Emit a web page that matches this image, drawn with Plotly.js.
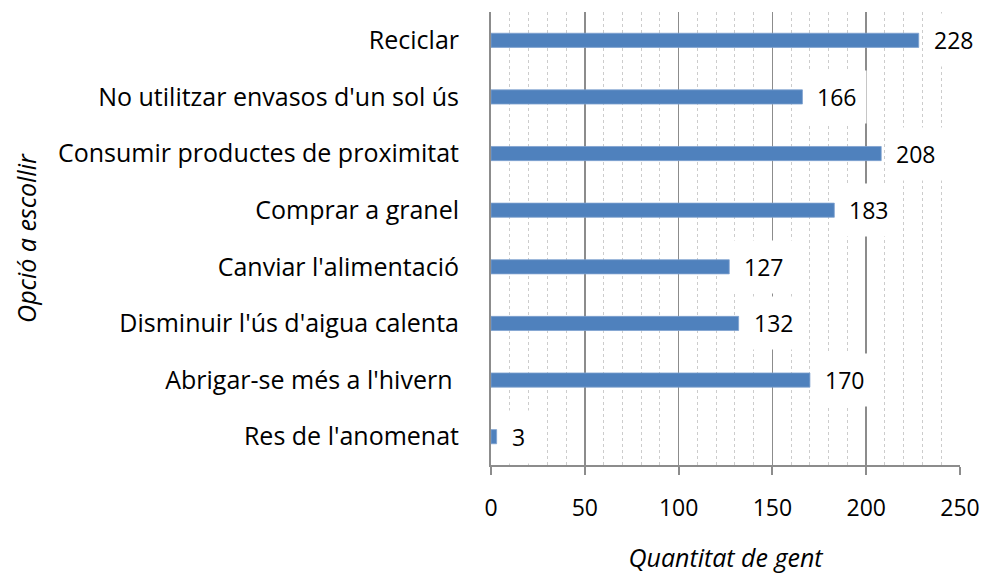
<!DOCTYPE html>
<html>
<head>
<meta charset="utf-8">
<script src="https://cdn.plot.ly/plotly-3.0.1.min.js"></script>
<style>html,body{margin:0;padding:0;background:#fff;}#chart{width:983px;height:574px;}</style>
</head>
<body>
<div id="chart"></div>
<script>
const categories = ["Reciclar", "No utilitzar envasos d'un sol ús", "Consumir productes de proximitat", "Comprar a granel", "Canviar l'alimentació", "Disminuir l'ús d'aigua calenta", "Abrigar-se més a l'hivern ", "Res de l'anomenat"];
const values = [228, 166, 208, 183, 127, 132, 170, 3];
const xTicks = [0, 50, 100, 150, 200, 250];

const FONT = "Open Sans, sans-serif";

const trace = {
  type: 'bar',
  orientation: 'h',
  y: categories,
  x: values,
  width: 0.25,
  marker: {color: '#4F81BD', line: {color: '#7FA1CF', width: 0.8}},
  hoverinfo: 'none'
};

const annotations = values.map((v, i) => ({
  x: v, y: categories[i], xref: 'x', yref: 'y',
  text: String(v), showarrow: false, xanchor: 'left', xshift: 4,
  bgcolor: '#ffffff', borderpad: 10,
  font: {family: FONT, size: 23, color: '#000'}
}));

const layout = {
  width: 983, height: 574,
  margin: {l: 491, r: 23, t: 12, b: 109},
  paper_bgcolor: '#fff', plot_bgcolor: '#fff',
  showlegend: false,
  font: {family: FONT, color: '#000'},
  xaxis: {
    range: [0, 250],
    tickvals: xTicks,
    ticktext: xTicks.map(String),
    tickfont: {family: FONT, size: 23, color: '#000'},
    ticks: 'outside', ticklen: 8, tickwidth: 2, tickcolor: '#8c8c8c',
    ticklabelstandoff: 13,
    showgrid: true, gridcolor: '#8c8c8c', gridwidth: 1.5,
    minor: {dtick: 10, showgrid: true, gridcolor: '#cccccc', griddash: 'dot', gridwidth: 1, ticks: ''},
    showline: true, linecolor: '#8c8c8c', linewidth: 2,
    zeroline: false,
    fixedrange: true,
    title: {text: 'Quantitat de gent', font: {family: FONT, size: 25, style: 'italic', color: '#000'}, standoff: 33}
  },
  yaxis: {
    type: 'category',
    autorange: 'reversed',
    tickfont: {family: FONT, size: 25, color: '#000'},
    ticks: '',
    ticklabelstandoff: 25,
    showline: true, linecolor: '#8c8c8c', linewidth: 2,
    showgrid: false, zeroline: false,
    fixedrange: true,
    title: {text: 'Opció a escollir', font: {family: FONT, size: 25, style: 'italic', color: '#000'}, standoff: 14}
  },
  annotations: annotations
};

Plotly.newPlot('chart', [trace], layout, {displayModeBar: false, staticPlot: true});
</script>
</body>
</html>
